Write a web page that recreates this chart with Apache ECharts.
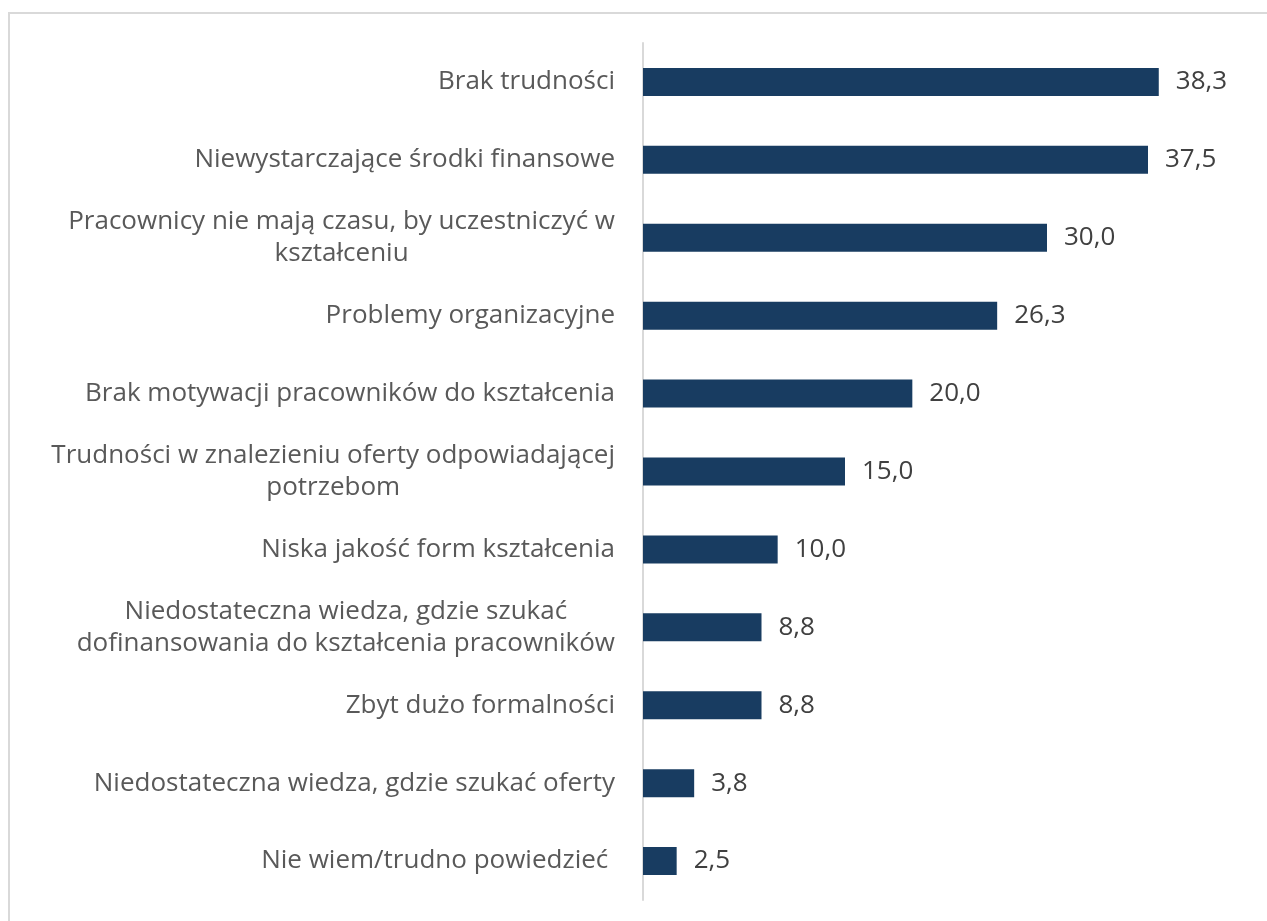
<!DOCTYPE html>
<html>
<head>
<meta charset="utf-8">
<script src="https://cdn.jsdelivr.net/npm/echarts@6/dist/echarts.min.js"></script>
<style>
  html, body { margin: 0; padding: 0; background: #fff; }
  #chart { width: 1267px; height: 921px; }
</style>
</head>
<body>
<div id="chart"></div>
<script>
// kategorie (od góry do dołu)
var categories = [
  'Brak trudności',
  'Niewystarczające środki finansowe',
  'Pracownicy nie mają czasu, by uczestniczyć w\nkształceniu',
  'Problemy organizacyjne',
  'Brak motywacji pracowników do kształcenia',
  'Trudności w znalezieniu oferty odpowiadającej\npotrzebom',
  'Niska jakość form kształcenia',
  'Niedostateczna wiedza, gdzie szukać\ndofinansowania do kształcenia pracowników',
  'Zbyt dużo formalności',
  'Niedostateczna wiedza, gdzie szukać oferty',
  'Nie wiem/trudno powiedzieć '
];
var values = [38.3, 37.5, 30.0, 26.3, 20.0, 15.0, 10.0, 8.8, 8.8, 3.8, 2.5];

var FONT = '"Open Sans"';

var chart = echarts.init(document.getElementById('chart'));
chart.setOption({
  animation: false,
  backgroundColor: '#fff',
  graphic: [{
    type: 'rect',
    shape: { x: 9, y: 13, width: 1300, height: 1000 },
    style: { fill: 'none', stroke: '#d9d9d9', lineWidth: 2 },
    silent: true
  }],
  grid: { left: 643, right: 18, top: 43, bottom: 21, containLabel: false },
  xAxis: {
    type: 'value',
    min: 0,
    max: 45,
    show: false
  },
  yAxis: {
    type: 'category',
    inverse: true,
    data: categories,
    axisLine: { show: true, lineStyle: { color: '#d9d9d9', width: 2 } },
    axisTick: { show: false },
    axisLabel: {
      margin: 28,
      color: '#595959',
      fontFamily: FONT,
      fontSize: 26,
      formatter: function (v) {
        return v.split('\n').map(function (s) { return '{c|' + s + '}'; }).join('\n');
      },
      rich: {
        c: { align: 'center', color: '#595959', fontFamily: FONT, fontSize: 26, lineHeight: 32 }
      }
    }
  },
  series: [{
    type: 'bar',
    data: values,
    barWidth: 28,
    itemStyle: { color: '#183c61' },
    label: {
      show: true,
      position: 'right',
      distance: 17,
      color: '#404040',
      fontFamily: FONT,
      fontSize: 26,
      formatter: function (p) { return p.value.toFixed(1).replace('.', ','); }
    }
  }]
});
</script>
</body>
</html>
